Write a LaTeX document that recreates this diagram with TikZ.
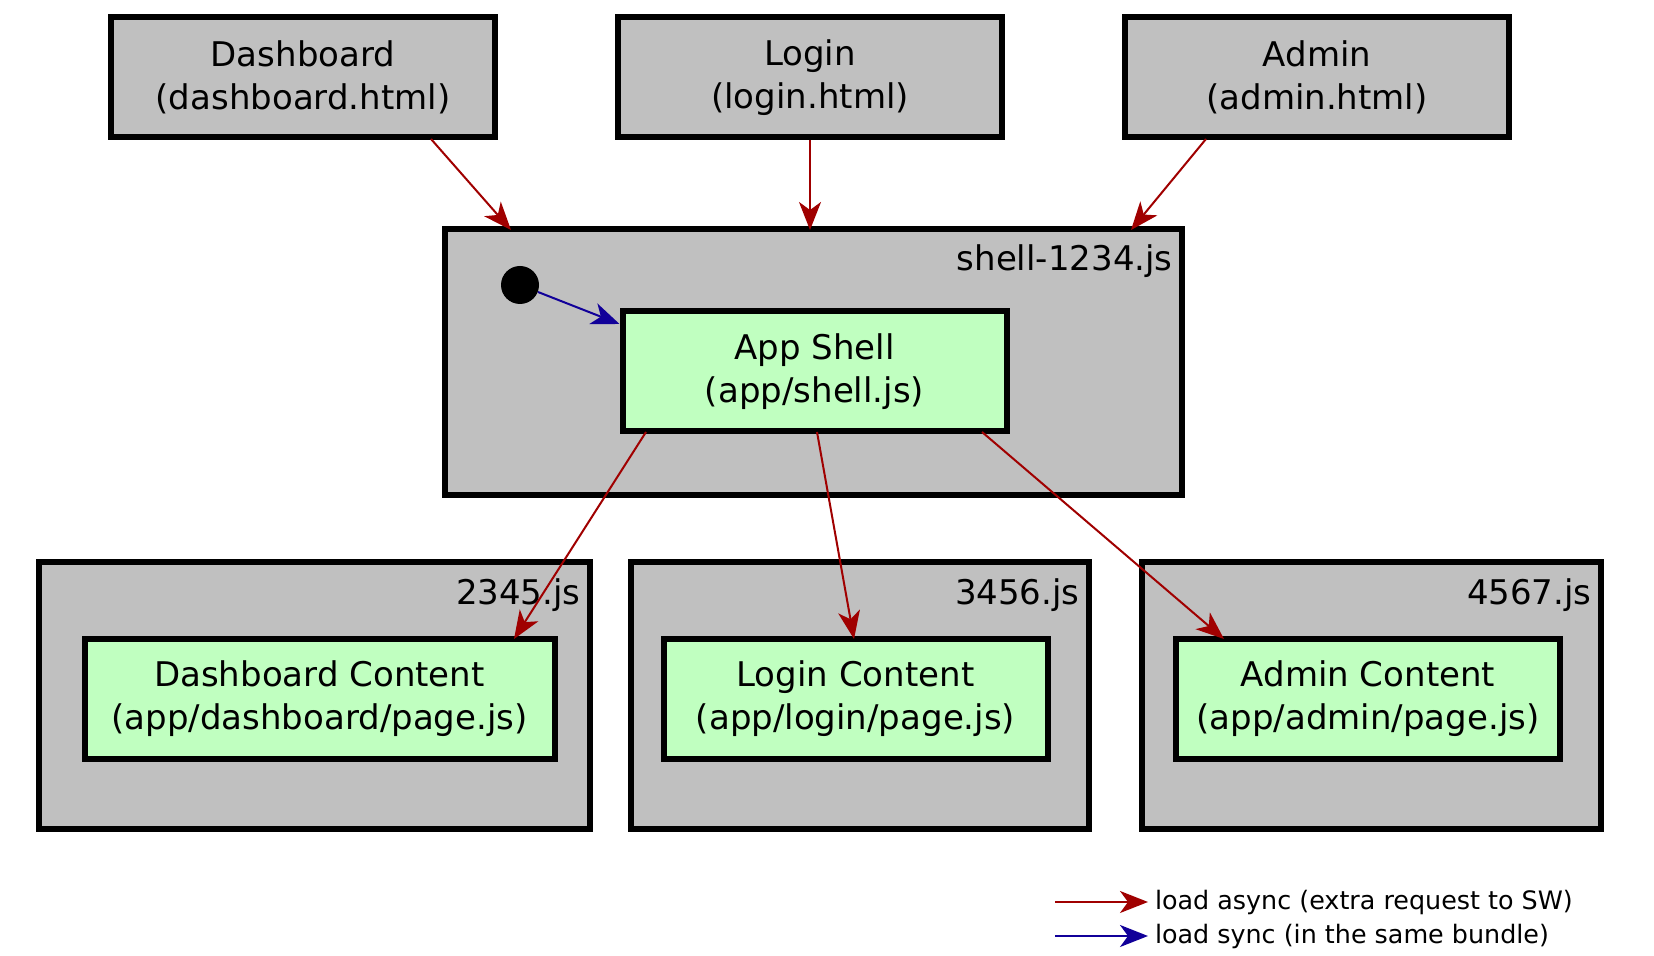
\documentclass[tikz,border=0pt]{standalone}
\usepackage{fontspec}
\setmainfont{DejaVu Sans}
\usetikzlibrary{arrows.meta}
\definecolor{asyncred}{RGB}{160,0,0}
\definecolor{syncblue}{RGB}{17,0,153}
\definecolor{chunkgray}{RGB}{192,192,192}
\definecolor{modgreen}{RGB}{192,255,192}
\begin{document}
\begin{tikzpicture}[x=0.5pt, y=-0.5pt,
    every node/.style={font=\fontsize{17}{21.5}\selectfont},
    chunk/.style={draw, line width=3pt, fill=chunkgray, inner sep=0pt},
    page/.style={draw, line width=3pt, fill=chunkgray, align=center, minimum width=192pt, minimum height=60pt},
    module/.style={draw, line width=3pt, fill=modgreen, align=center, minimum height=60pt},
    chunkname/.style={anchor=north east, inner sep=2pt},
    async/.style={-{Stealth[length=14pt, width=11pt, inset=4pt]}, asyncred, line width=1pt},
    sync/.style={-{Stealth[length=14pt, width=11pt, inset=4pt]}, syncblue, line width=1pt},
    legendtext/.style={right, inner sep=3pt, text=black, font=\fontsize{12.7}{15}\selectfont}]
        \useasboundingbox (0, 0) rectangle (1654, 956);

        % pages
        \node[page] (dashboard) at (303, 77.5) {Dashboard\\(dashboard.html)};
        \node[page] (login) at (810, 77.5) {Login\\(login.html)};
        \node[page] (admin) at (1317, 77.5) {Admin\\(admin.html)};

        % chunks
        \draw[chunk] (445, 229) rectangle (1182, 495);
        \node[chunkname] (shellname) at (1177, 240) {shell-1234.js};
        \draw[chunk] (39, 562) rectangle (590, 829);
        \node[chunkname] (dashname) at (585, 574) {2345.js};
        \draw[chunk] (631, 562) rectangle (1089, 829);
        \node[chunkname] (loginname) at (1084, 574) {3456.js};
        \draw[chunk] (1142, 562) rectangle (1601, 829);
        \node[chunkname] (adminname) at (1596, 574) {4567.js};

        % modules
        \fill (520, 285) circle (9.5pt) coordinate (start);
        \node[module, minimum width=192pt] (shell) at (814.5, 371.5) {App Shell\\(app/shell.js)};
        \node[module, minimum width=235pt] (dashcontent) at (319.5, 699) {Dashboard Content\\(app/dashboard/page.js)};
        \node[module, minimum width=192pt] (logincontent) at (855.5, 699) {Login Content\\(app/login/page.js)};
        \node[module, minimum width=192pt] (admincontent) at (1368, 699) {Admin Content\\(app/admin/page.js)};

        % loads
        \draw[async] (431, 139) -- (511, 230);
        \draw[async] (login.south) -- (810, 230);
        \draw[async] (1206, 139) -- (1131, 230);
        \draw[sync] (538, 292) -- (shell.north west |- 0, 324);
        \draw[async] (646, 432) -- (514, 639);
        \draw[async] (817, 432) -- (854, 639);
        \draw[async] (982, 432) -- (1224, 639);

        % legend
        \draw[async] (1055, 902) -- (1148, 902) node[legendtext] {load async (extra request to SW)};
        \draw[sync] (1055, 936) -- (1148, 936) node[legendtext] {load sync (in the same bundle)};
    \end{tikzpicture}
\end{document}
